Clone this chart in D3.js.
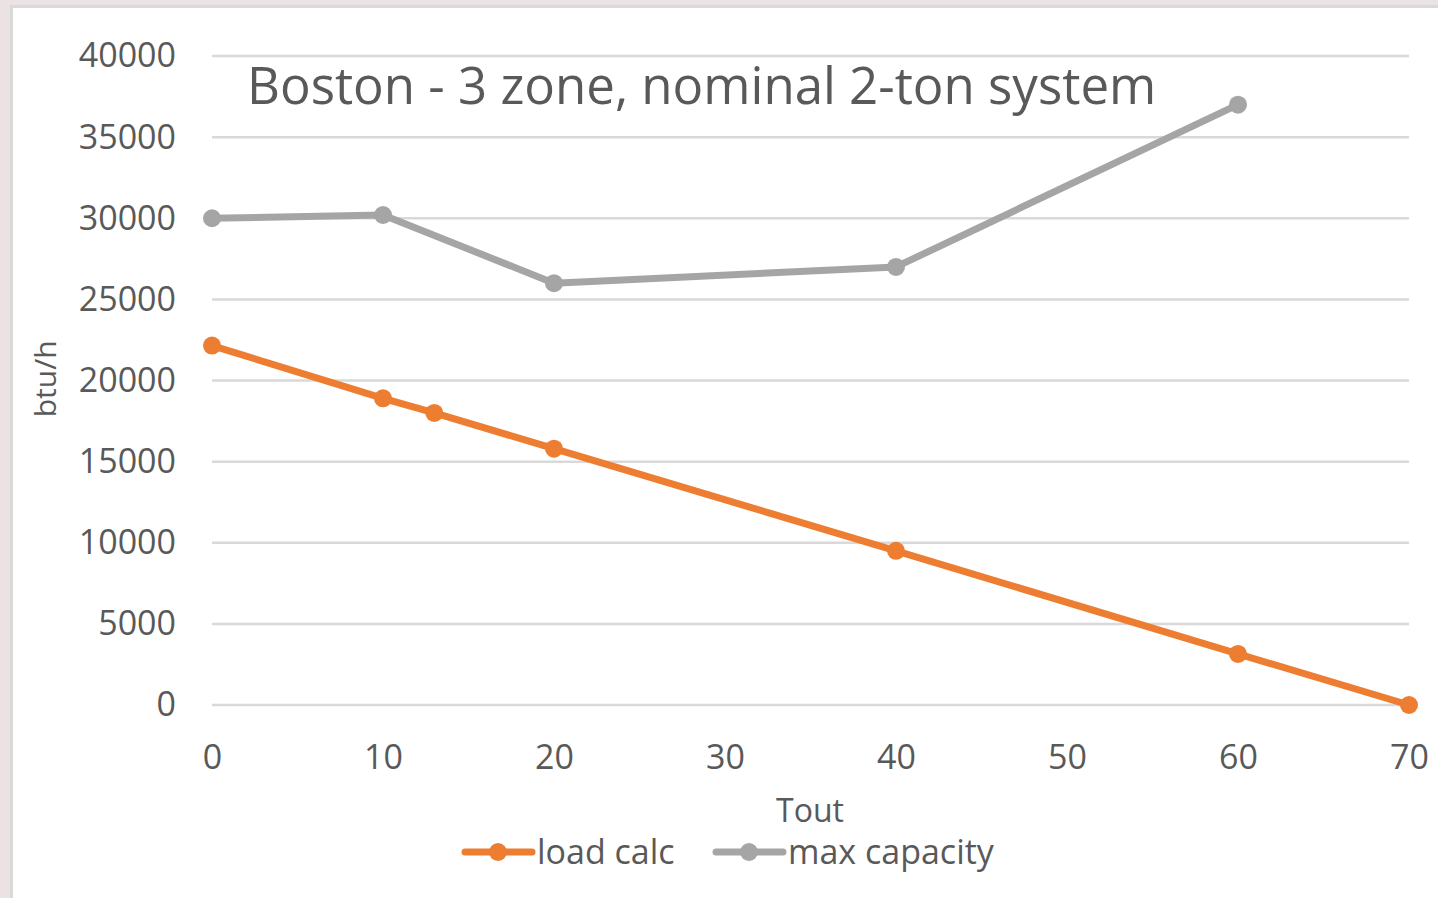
<!DOCTYPE html>
<html>
<head>
<meta charset="utf-8">
<script src="https://cdn.jsdelivr.net/npm/d3@7"></script>
<style>
  html, body { margin: 0; padding: 0; background: #ebe3e3; }
  #chart-area { position: absolute; left: 10px; top: 5px; width: 1428px; height: 893px;
    background: #fff; border-left: 3px solid #d9d9d9; border-top: 3px solid #d9d9d9; box-sizing: border-box; }
  svg { position: absolute; left: -13px; top: -8px; }
  text { font-family: "Open Sans", sans-serif; fill: #595959; }
</style>
</head>
<body>
<div id="chart-area"></div>
<script>
const loadX = [0, 10, 13, 20, 40, 60, 70]
const loadY = [22150, 18900, 18000, 15800, 9500, 3150, 0]
const capX = [0, 10, 20, 40, 60]
const capY = [30000, 30200, 26000, 27000, 37000]
const xTicks = [0, 10, 20, 30, 40, 50, 60, 70]
const yTicks = [0, 5000, 10000, 15000, 20000, 25000, 30000, 35000, 40000]

const orange = '#ed7d31', grey = '#a5a5a5'

const margin = { left: 212, right: 29, top: 56, bottom: 193 }
const width = 1438 - margin.left - margin.right,
  height = 898 - margin.top - margin.bottom

let svg = d3.select('#chart-area')
  .append('svg')
  .attr('width', 1438)
  .attr('height', 898)

let g = svg.append('g')
  .attr('transform', 'translate(' + margin.left + ',' + margin.top + ')')

let x = d3.scaleLinear().domain([0, 70]).range([0, width])
let y = d3.scaleLinear().domain([0, 40000]).range([height, 0])

// gridlines
g.selectAll('.grid')
  .data(yTicks)
  .enter().append('line')
  .attr('x1', 0).attr('x2', width)
  .attr('y1', d => y(d)).attr('y2', d => y(d))
  .attr('stroke', '#d9d9d9')
  .attr('stroke-width', 2.5)

let yAxis = g.append('g')
  .call(d3.axisLeft(y).tickValues(yTicks).tickSize(0).tickPadding(36).tickFormat(d3.format('d')))
yAxis.select('.domain').remove()
yAxis.selectAll('text').attr('font-size', 34).attr('fill', '#595959').attr('font-family', '"Open Sans", sans-serif')

let xAxis = g.append('g')
  .attr('transform', 'translate(0,' + height + ')')
  .call(d3.axisBottom(x).tickValues(xTicks).tickSize(0).tickPadding(40))
xAxis.select('.domain').remove()
xAxis.selectAll('text').attr('font-size', 34).attr('fill', '#595959').attr('font-family', '"Open Sans", sans-serif')

// title
g.append('text')
  .attr('x', 35)
  .attr('y', 48)
  .attr('font-size', 51)
  .text('Boston - 3 zone, nominal 2-ton system')

// axis labels
g.append('text')
  .attr('x', 598)
  .attr('y', height + 117)
  .attr('text-anchor', 'middle')
  .attr('font-size', 32)
  .text('Tout')

g.append('text')
  .attr('transform', 'translate(-156,' + y(20100) + ') rotate(-90)')
  .attr('text-anchor', 'middle')
  .attr('font-size', 30)
  .text('btu/h')

let line = d3.line().x(d => x(d[0])).y(d => y(d[1]))

const series = [
  { name: 'load calc', color: orange, pts: loadX.map((v, i) => [v, loadY[i]]) },
  { name: 'max capacity', color: grey, pts: capX.map((v, i) => [v, capY[i]]) }
]

series.forEach(s => {
  g.append('path')
    .attr('d', line(s.pts))
    .attr('fill', 'none')
    .attr('stroke', s.color)
    .attr('stroke-width', 7)
    .attr('stroke-linejoin', 'round')
  g.selectAll(null)
    .data(s.pts)
    .enter().append('circle')
    .attr('cx', d => x(d[0]))
    .attr('cy', d => y(d[1]))
    .attr('r', 9)
    .attr('fill', s.color)
})

// legend
let legend = svg.append('g').attr('transform', 'translate(465,852)')
const legendX = [0, 251]
series.forEach((s, i) => {
  let row = legend.append('g').attr('transform', 'translate(' + legendX[i] + ',0)')
  row.append('line')
    .attr('x1', 0).attr('x2', 67)
    .attr('stroke', s.color).attr('stroke-width', 7).attr('stroke-linecap', 'round')
  row.append('circle').attr('cx', 33).attr('r', 9).attr('fill', s.color)
  row.append('text')
    .attr('x', 72)
    .attr('y', 12)
    .attr('font-size', 34)
    .text(s.name)
})
</script>
</body>
</html>
